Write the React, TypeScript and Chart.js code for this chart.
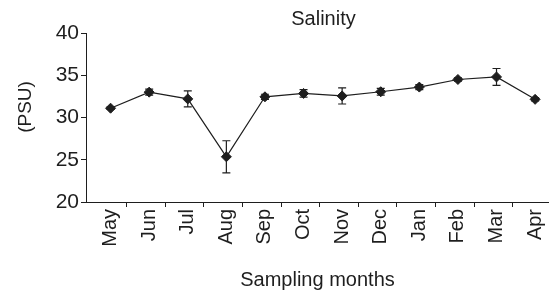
import React, { useEffect, useRef } from "react";
import { Chart, registerables } from "chart.js";

Chart.register(...registerables);

const months = ["May", "Jun", "Jul", "Aug", "Sep", "Oct", "Nov", "Dec", "Jan", "Feb", "Mar", "Apr"];
const salinity = [31.1, 33.0, 32.2, 25.35, 32.45, 32.85, 32.55, 33.05, 33.6, 34.5, 34.8, 32.15];
const salinityErr = [0.15, 0.35, 0.95, 1.9, 0.3, 0.45, 0.95, 0.4, 0.3, 0.2, 1.0, 0.2];
const yTicks = [20, 25, 30, 35, 40];
const tickOffset = 0.42;

const FONT = "Arial, 'Liberation Sans', Helvetica, sans-serif";
const INK = "#1e1e1e";

const errorBars = {
  id: "errorBars",
  beforeDatasetsDraw(chart: any) {
    const { ctx, scales } = chart;
    const xs = scales.x;
    const ys = scales.y;
    ctx.save();
    ctx.strokeStyle = INK;
    ctx.lineWidth = 1.2;
    salinity.forEach((v, i) => {
      const x = xs.getPixelForValue(i);
      const yTop = ys.getPixelForValue(v + salinityErr[i]);
      const yBot = ys.getPixelForValue(v - salinityErr[i]);
      ctx.beginPath();
      ctx.moveTo(x, yTop);
      ctx.lineTo(x, yBot);
      ctx.moveTo(x - 4, yTop);
      ctx.lineTo(x + 4, yTop);
      ctx.moveTo(x - 4, yBot);
      ctx.lineTo(x + 4, yBot);
      ctx.stroke();
    });
    ctx.restore();
  },
};

const titlePlugin = {
  id: "topTitle",
  afterDraw(chart: any) {
    const { ctx, chartArea } = chart;
    ctx.save();
    ctx.fillStyle = INK;
    ctx.font = `20px ${FONT}`;
    ctx.textAlign = "center";
    ctx.textBaseline = "middle";
    ctx.fillText("Salinity", (chartArea.left + chartArea.right) / 2 + 6, 19);
    ctx.restore();
  },
};

export default function App() {
  const ref = useRef<HTMLCanvasElement>(null);
  useEffect(() => {
    document.body.style.margin = "0";
    const chart = new Chart(ref.current!, {
      type: "line",
      data: {
        datasets: [
          {
            data: salinity.map((v, i) => ({ x: i, y: v })),
            borderColor: INK,
            borderWidth: 1.2,
            pointStyle: "rectRot",
            pointRadius: 5,
            pointBackgroundColor: INK,
            pointBorderColor: INK,
            pointBorderWidth: 1,
            tension: 0,
          },
        ],
      },
      options: {
        animation: false,
        responsive: true,
        maintainAspectRatio: false,
        layout: { autoPadding: false, padding: { top: 33, right: 0, bottom: 0, left: 0 } },
        plugins: { legend: { display: false }, tooltip: { enabled: false }, title: { display: false } },
        scales: {
          x: {
            type: "linear",
            min: -0.637,
            max: 11.36,
            afterBuildTicks: (axis: any) => {
              const t: any[] = [];
              months.forEach((_, i) => {
                t.push({ value: i });
                if (i + tickOffset < 11.36 && i < months.length - 1) t.push({ value: i + tickOffset });
              });
              t.sort((a, b) => a.value - b.value);
              axis.ticks = t;
            },
            afterFit: (axis: any) => {
              axis.height = 90;
              axis.paddingLeft = 0;
              axis.paddingRight = 0;
            },
            ticks: {
              autoSkip: false,
              minRotation: 90,
              maxRotation: 90,
              padding: 2,
              color: INK,
              font: { family: FONT, size: 20 },
              callback: (value: any) => (Number.isInteger(value) ? months[value] : ""),
            },
            grid: {
              drawOnChartArea: false,
              tickLength: 5,
              tickColor: (c: any) => (c.tick && Number.isInteger(c.tick.value) ? "rgba(0,0,0,0)" : INK),
              tickWidth: 1,
            },
            border: { color: INK, width: 1 },
            title: {
              display: true,
              text: "Sampling months",
              color: INK,
              font: { family: FONT, size: 20 },
              padding: { top: 0, bottom: 0 },
            },
          },
          y: {
            min: 20,
            max: 40,
            afterBuildTicks: (axis: any) => {
              axis.ticks = yTicks.map((v) => ({ value: v }));
            },
            afterFit: (axis: any) => {
              axis.width = 86;
            },
            ticks: {
              padding: 2,
              color: INK,
              font: { family: FONT, size: 21 },
            },
            grid: { drawOnChartArea: false, tickLength: 5, tickColor: INK, tickWidth: 1 },
            border: { color: INK, width: 1 },
            title: {
              display: true,
              text: "\u00A0\u00A0\u00A0\u00A0(PSU)",
              color: INK,
              font: { family: FONT, size: 19 },
              padding: { top: 14, bottom: 0 },
            },
          },
        },
      },
      plugins: [errorBars, titlePlugin],
    });
    return () => chart.destroy();
  }, []);
  return (
    <div style={{ position: "absolute", left: 0, top: 0, width: 549, height: 292 }}>
      <canvas ref={ref} />
    </div>
  );
}
